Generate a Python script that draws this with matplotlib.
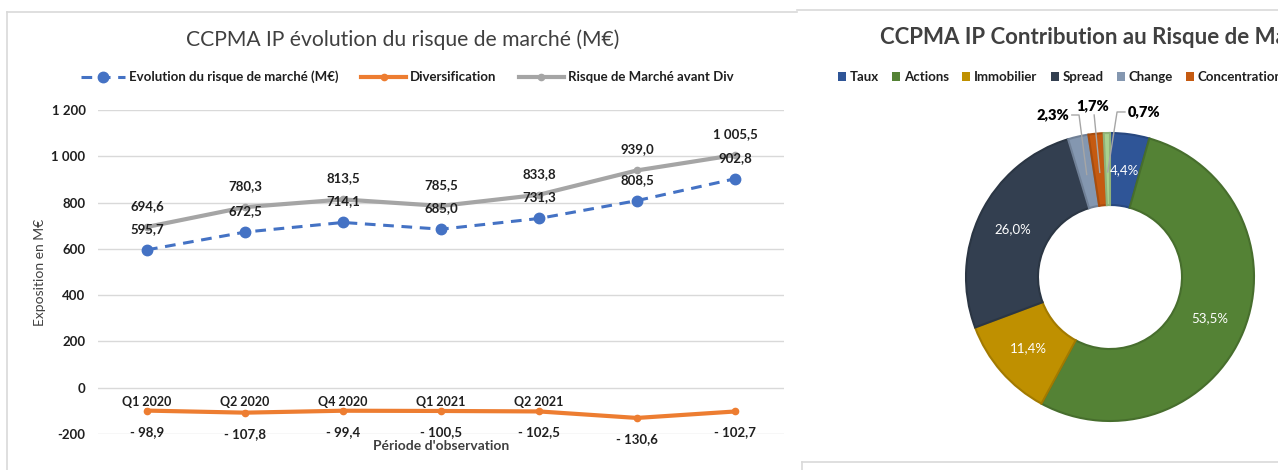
import matplotlib as mpl
import matplotlib.pyplot as plt
from matplotlib.lines import Line2D
from matplotlib.patches import Patch
from matplotlib.ticker import FuncFormatter
import matplotlib.colors as mcolors
import numpy as np

plt.rcParams['font.family'] = ['Lato', 'DejaVu Sans']

# Left chart data (M€)
periodes = ['Q1 2020', 'Q2 2020', 'Q4 2020', 'Q1 2021', 'Q2 2021', '', '']
evolution = [595.7, 672.5, 714.1, 685.0, 731.3, 808.5, 902.8]
diversification = [-98.9, -107.8, -99.4, -100.5, -102.5, -130.6, -102.7]
risque_avant_div = [694.6, 780.3, 813.5, 785.5, 833.8, 939.0, 1005.5]

# Right chart data (%)
categories = ['Taux', 'Actions', 'Immobilier', 'Spread', 'Change', 'Concentration', 'Autres']
contributions = [4.4, 53.5, 11.4, 26.0, 2.3, 1.7, 0.7]
cat_colors = ['#2F5597', '#548235', '#BF9000', '#333F50', '#8497B0', '#C55A11', '#A9D18E']

W, H = 1278, 470
def fx(px):
    return px / W
def fy(py):
    return 1 - py / H

def fr(v):
    # french number format: 1 005,5 / - 98,9
    s = f"{abs(v):,.1f}".replace(',', ' ').replace('.', ',')
    return ('- ' + s) if v < 0 else s

def pct(v):
    return f"{v:.1f}%".replace('.', ',')

txt = '#404040'
dark = '#1f1f1f'
fig = plt.figure(figsize=(W / 100, H / 100), dpi=100)

# panel borders
border = '#D9D9D9'
for xs, ys in [([7, 797], [12, 12]), ([7, 7], [12, 470]), ([797, 1278], [10, 10]),
               ([802, 1278], [462, 462]), ([802, 802], [462, 470])]:
    fig.add_artist(Line2D([fx(p) for p in xs], [fy(p) for p in ys], color=border, lw=1.2))

# ---------------- left: line chart ----------------
ax = fig.add_axes([fx(98), fy(434), fx(784) - fx(98), (434 - 110) / H])
x = np.arange(len(periodes))

l_evo, = ax.plot(x, evolution, color='#4472C4', lw=2.2, ls=(0, (3.5, 2.5)), marker='o', ms=7.5,
                 label='Evolution du risque de marché (M€)', zorder=4)
l_div, = ax.plot(x, diversification, color='#ED7D31', lw=3, marker='o', ms=4.5,
                 label='Diversification', zorder=1.2)
l_avd, = ax.plot(x, risque_avant_div, color='#A5A5A5', lw=3, marker='o', ms=4.5,
                 label='Risque de Marché avant Div', zorder=3)

lab_kw = dict(textcoords='offset pixels', ha='center', va='center', fontsize=9.5,
              fontweight='bold', color=dark, zorder=6)
for i in x:
    ax.annotate(fr(evolution[i]), (i, evolution[i]), xytext=(0, 21), **lab_kw)
    ax.annotate(fr(risque_avant_div[i]), (i, risque_avant_div[i]), xytext=(0, 21), **lab_kw)
    ax.annotate(fr(diversification[i]), (i, diversification[i]), xytext=(0, -21), **lab_kw)

ax.set_xlim(-0.5, len(periodes) - 0.5)
ax.set_ylim(-200, 1200)
ax.set_yticks(range(-200, 1201, 200))
ax.yaxis.set_major_formatter(FuncFormatter(lambda v, p: f"{int(v):,}".replace(',', ' ')))
ax.set_xticks(x)
ax.set_xticklabels(periodes)
for s in ax.spines.values():
    s.set_visible(False)
ax.spines['bottom'].set_position(('data', 0))
ax.grid(True, axis='y', color='#D9D9D9', lw=1)
ax.tick_params(axis='both', length=0, labelcolor=dark)
ax.tick_params(axis='x', pad=6, labelsize=9)
ax.tick_params(axis='y', pad=9, labelsize=9.5)
for lab in ax.get_xticklabels() + ax.get_yticklabels():
    lab.set_fontweight('bold')

ax.set_xlabel("Période d'observation", fontsize=10, color=txt, fontweight='bold')
ax.xaxis.set_label_coords(0.5, -0.018)
ax.set_ylabel('Exposition en M€', fontsize=10, color=txt)
ax.yaxis.set_label_coords(-0.076, 0.5)

fig.text(fx(403), fy(40), 'CCPMA IP évolution du risque de marché (M€)', ha='center', va='center',
         fontsize=15.2, color=txt)
fig.legend(handles=[l_evo, l_div, l_avd], loc='center', bbox_to_anchor=(fx(407), fy(77)), ncol=3,
           frameon=False, handlelength=3.4, columnspacing=1.7, handletextpad=0.3,
           prop={'size': 9.5, 'weight': 'bold'}, labelcolor=dark)

# ---------------- right: donut ----------------
ax2 = fig.add_axes([fx(1110 - 144), fy(277 + 144), 288 / W, 288 / H])

wedges, _, autotexts = ax2.pie(contributions, colors=cat_colors, startangle=90, counterclock=False,
                               radius=1, autopct=lambda p: pct(p) if p > 3 else '', pctdistance=0.75,
                               wedgeprops=dict(width=0.5, linewidth=1.5),
                               textprops=dict(color='white', fontsize=9.5))
for w, c in zip(wedges, cat_colors):
    w.set_edgecolor(np.array(mcolors.to_rgb(c)) * 0.85)
ax2.set_xlim(-1, 1)
ax2.set_ylim(-1, 1)

# outside labels for the small slices
small = [4, 5, 6]
label_pos = [(-0.40, 1.125), (-0.118, 1.19), (0.24, 1.146)]
label_edge = [(-0.265, 1.125), (-0.11, 1.125), (0.104, 1.146)]
elbow = [(-0.215, 1.125), (-0.11, 1.125), (0.049, 1.146)]
for k, idx in enumerate(small):
    w = wedges[idx]
    th = np.deg2rad((w.theta1 + w.theta2) / 2)
    anchor = (0.73 * np.cos(th), 0.73 * np.sin(th))
    pts = [label_edge[k], elbow[k], anchor]
    ax2.plot([p[0] for p in pts], [p[1] for p in pts], color='#A6A6A6', lw=1, clip_on=False, zorder=5)
    ax2.text(label_pos[k][0], label_pos[k][1], pct(contributions[idx]),
             ha='center', va='center', fontsize=10.5, fontweight='heavy', color='black')

# the panel is wider than the picture: title and legend run past the right edge
fig.text(fx(880), fy(38), 'CCPMA IP Contribution au Risque de Marché', ha='left', va='center',
         fontsize=16, fontweight='bold', color=txt)
fig.legend(handles=[Patch(facecolor=c, label=n) for n, c in zip(categories, cat_colors)],
           loc='center left', bbox_to_anchor=(fx(838), fy(77)), ncol=7, frameon=False,
           handlelength=0.6, handleheight=0.6, handletextpad=0.3, columnspacing=1.0,
           prop={'size': 9.5, 'weight': 'bold'}, labelcolor=dark, borderaxespad=0, borderpad=0)

fig.savefig('out.png', dpi=100)
